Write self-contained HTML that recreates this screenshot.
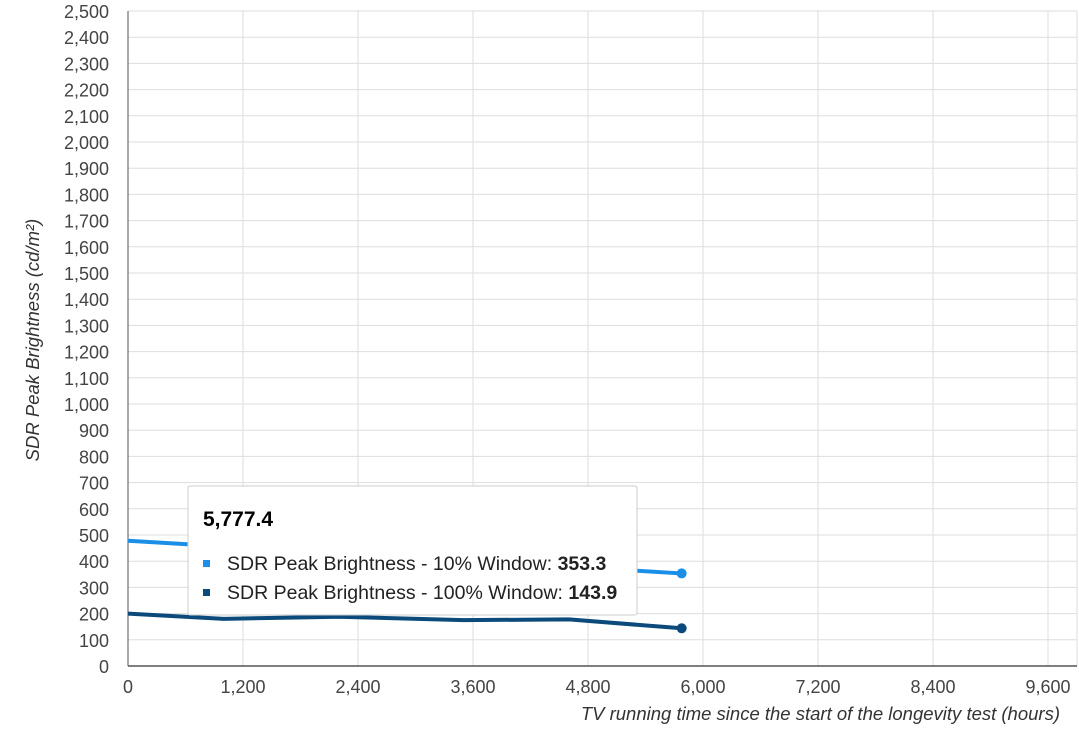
<!DOCTYPE html>
<html><head><meta charset="utf-8"><style>
body{margin:0;background:#fff;font-family:"Liberation Sans",sans-serif}
svg text{font-family:"Liberation Sans",sans-serif}
</style></head><body>
<svg width="1079" height="730">
<g id="grid"></g><g id="series"></g><g id="labels"></g>
<g>
<rect x="188" y="486" width="449" height="129" fill="#fff" stroke="#ccc" rx="2"/>
<text x="203" y="526" font-size="21" font-weight="bold" fill="#000" textLength="70" lengthAdjust="spacingAndGlyphs">5,777.4</text>
<rect x="203" y="560" width="7" height="7" fill="#1a8fe8"/>
<text x="227" y="570" font-size="19.5" fill="#222">SDR Peak Brightness - 10% Window: <tspan font-weight="bold">353.3</tspan></text>
<rect x="203" y="589" width="7" height="7" fill="#0b4a7a"/>
<text x="227" y="599" font-size="19.5" fill="#222">SDR Peak Brightness - 100% Window: <tspan font-weight="bold">143.9</tspan></text>
</g>
<text x="1060" y="720" font-size="18.5" font-style="italic" fill="#333" text-anchor="end">TV running time since the start of the longevity test (hours)</text>
<text transform="translate(39,340) rotate(-90)" font-size="18.5" font-style="italic" fill="#333" text-anchor="middle">SDR Peak Brightness (cd/m²)</text>
</svg>
<script>
const xTicks=[0,1200,2400,3600,4800,6000,7200,8400,9600];
const yTicks=[0,100,200,300,400,500,600,700,800,900,1000,1100,1200,1300,1400,1500,1600,1700,1800,1900,2000,2100,2200,2300,2400,2500];
const hours10=[0,5777.4];
const values10=[478,353.3];
const hours100=[0,1000,2200,3500,4600,5777.4];
const values100=[200,180,188,175,178,143.9];
const X0=128,X1=1077,Y0=666,Y1=11;
const xs=v=>X0+v*(703-128)/6000;
const ys=v=>Y0-v*(Y0-Y1)/2500;
const NS="http://www.w3.org/2000/svg";
const grid=document.getElementById('grid'),lab=document.getElementById('labels'),ser=document.getElementById('series');
function mk(tag,attrs,parent){const e=document.createElementNS(NS,tag);for(const k in attrs)e.setAttribute(k,attrs[k]);parent.appendChild(e);return e;}
yTicks.forEach(v=>{
 const l=mk('line',{x1:X0,x2:X1,y1:ys(v),y2:ys(v),stroke:'#ddd'},grid);
 
 
 const t=mk('text',{x:109,y:ys(v)+7,'font-size':18,fill:'#444','text-anchor':'end'},lab);
 t.textContent=v.toLocaleString('en-US');
 
 
});
xTicks.forEach(v=>{
 const l=mk('line',{x1:xs(v),x2:xs(v),y1:Y1,y2:Y0,stroke:'#ddd'},grid);
 
 
 const t=mk('text',{x:xs(v),y:693,'font-size':18,fill:'#444','text-anchor':'middle'},lab);
 t.textContent=v.toLocaleString('en-US');
 
 
});
mk('line',{x1:X1,x2:X1,y1:Y1,y2:Y0,stroke:'#ddd'},grid);
mk('line',{x1:X0,x2:X1,y1:Y0,y2:Y0,stroke:'#555','stroke-width':1.5},grid);
mk('line',{x1:X0,x2:X0,y1:Y1,y2:Y0,stroke:'#555','stroke-width':1},grid);
function series(hs,vs,color,name){
 const p=mk('polyline',{points:hs.map((h,i)=>xs(h)+','+ys(vs[i])).join(' '),fill:'none',stroke:color,'stroke-width':4,'stroke-linejoin':'round'},ser);
 
 
 const n=hs.length-1;
 const c=mk('circle',{cx:xs(hs[n]),cy:ys(vs[n]),r:5,fill:color},ser);
 
 
}
series(hours10,values10,'#1a8fe8','series-10pct');
series(hours100,values100,'#0b4a7a','series-100pct');
</script>
</body></html>
